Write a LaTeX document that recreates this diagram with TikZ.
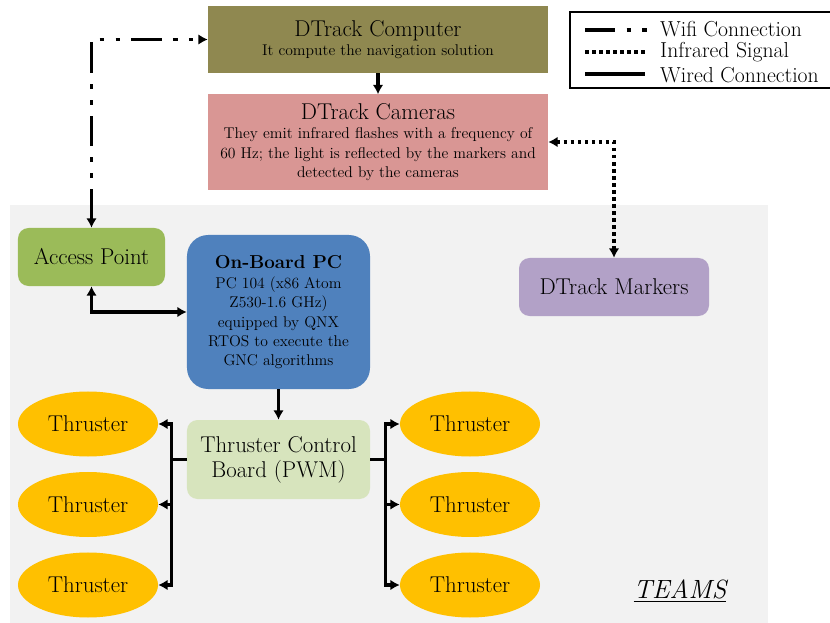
\documentclass[tikz,border=0pt]{standalone}
\usepackage{xcolor}
\usepackage{tikz}
\usetikzlibrary{shapes,arrows.meta}

\definecolor{compcol}{RGB}{143,136,80}
\definecolor{camcol}{RGB}{217,150,148}
\definecolor{apcol}{RGB}{155,187,89}
\definecolor{pccol}{RGB}{79,129,189}
\definecolor{markcol}{RGB}{178,161,199}
\definecolor{boardcol}{RGB}{215,228,189}
\definecolor{thrustcol}{RGB}{255,192,0}
\definecolor{bgcol}{RGB}{242,242,242}

\newcommand{\boxtitle}[1]{{\fontsize{19.5}{21}\selectfont #1}}

\tikzstyle{block} = [rectangle, text centered, align=center,
    font=\fontsize{13.3}{16.5}\selectfont]
\tikzstyle{rblock} = [block, rounded corners=9pt]
\tikzstyle{bigtext} = [font=\fontsize{19.5}{21.5}\selectfont]
\tikzstyle{legtext} = [anchor=west, inner sep=0pt, font=\fontsize{18.5}{20}\selectfont]
\tikzstyle{thruster} = [ellipse, fill=thrustcol, minimum width=4.2cm,
    minimum height=1.95cm, inner sep=0pt, bigtext]
\tikzstyle{wire} = [draw, line width=2.8pt]
\tikzstyle{line} = [wire, -{Latex[length=8pt,width=9pt]}]
\tikzstyle{dline} = [wire, {Latex[length=8pt,width=9pt]}-{Latex[length=8pt,width=9pt]}]
\tikzstyle{wifidash} = [dash pattern=on 26pt off 9.5pt on 4pt off 9.5pt on 4pt off 9.5pt]
\tikzstyle{irdots} = [dash pattern=on 3pt off 3pt]

\begin{document}
\begin{tikzpicture}[x=0.03cm, y=-0.03cm, node distance=1cm, auto]
    \useasboundingbox (0,0) rectangle (830,623);
    % TEAMS area
    \fill [bgcol] (10,205) rectangle (768,623);

    % Place nodes
    \node [block, fill=compcol, minimum width=10.2cm, minimum height=2.01cm] (comp) at (378,39.5)
        {\boxtitle{DTrack Computer}\\It compute the navigation solution};
    \node [block, fill=camcol, minimum width=10.2cm, minimum height=2.85cm, below of=comp, node distance=3.075cm] (cams)
        {\boxtitle{DTrack Cameras}\\They emit infrared flashes with a frequency of\\60 Hz; the light is reflected by the markers and\\detected by the cameras};

    \node [rblock, fill=apcol, minimum width=4.41cm, minimum height=1.74cm, bigtext] (ap) at (91.5,257) {Access Point};
    \node [rblock, fill=pccol, rounded corners=18pt, minimum width=5.49cm, minimum height=4.62cm] (pc) at (278.5,312)
        {{\fontsize{16}{19}\selectfont\bfseries On-Board PC}\\[1pt]PC 104 (x86 Atom\\Z530-1.6 GHz)\\equipped by QNX\\RTOS to execute the\\GNC algorithms};
    \node [rblock, fill=markcol, minimum width=5.7cm, minimum height=1.74cm, bigtext] (mark) at (614,287) {DTrack Markers};
    \node [rblock, fill=boardcol, minimum width=5.49cm, minimum height=2.37cm, below of=pc, node distance=4.425cm, bigtext] (board)
        {Thruster Control\\Board (PWM)};

    \foreach \i/\ty in {1/424, 2/504.5, 3/585} {
        \node [thruster] (tl\i) at (88,\ty) {Thruster};
        \node [thruster] (tr\i) at (470,\ty) {Thruster};
        \path [line] (board.west) -- ++(-0.45cm,0) |- (tl\i.east);
        \path [line] (board.east) -- ++(0.45cm,0) |- (tr\i.west);
    }

    \node [font=\fontsize{22.5}{26}\selectfont\itshape] (teams) at (680,591) {\underline{TEAMS}};

    % Connections
    \path [line] (comp) -- (cams);
    \path [dline, wifidash] (ap.north) |- (comp.west);
    \path [dline, irdots] (cams.east) -| (mark.north);
    \path [dline] (ap.south) |- (pc.west);
    \path [line] (pc) -- (board);

    % Legend
    \draw [line width=2pt] (570,12) rectangle (845,88);
    \node [legtext] (lgwifi) at (660,29) {Wifi Connection};
    \node [legtext] (lgir) at (660,52) {Infrared Signal};
    \node [legtext] (lgwire) at (660,75) {Wired Connection};
    \path [wire, wifidash] (585,30) -- (648,30);
    \path [wire, irdots] (585,52) -- (645,52);
    \path [wire] (585,74) -- (645,74);
\end{tikzpicture}
\end{document}
